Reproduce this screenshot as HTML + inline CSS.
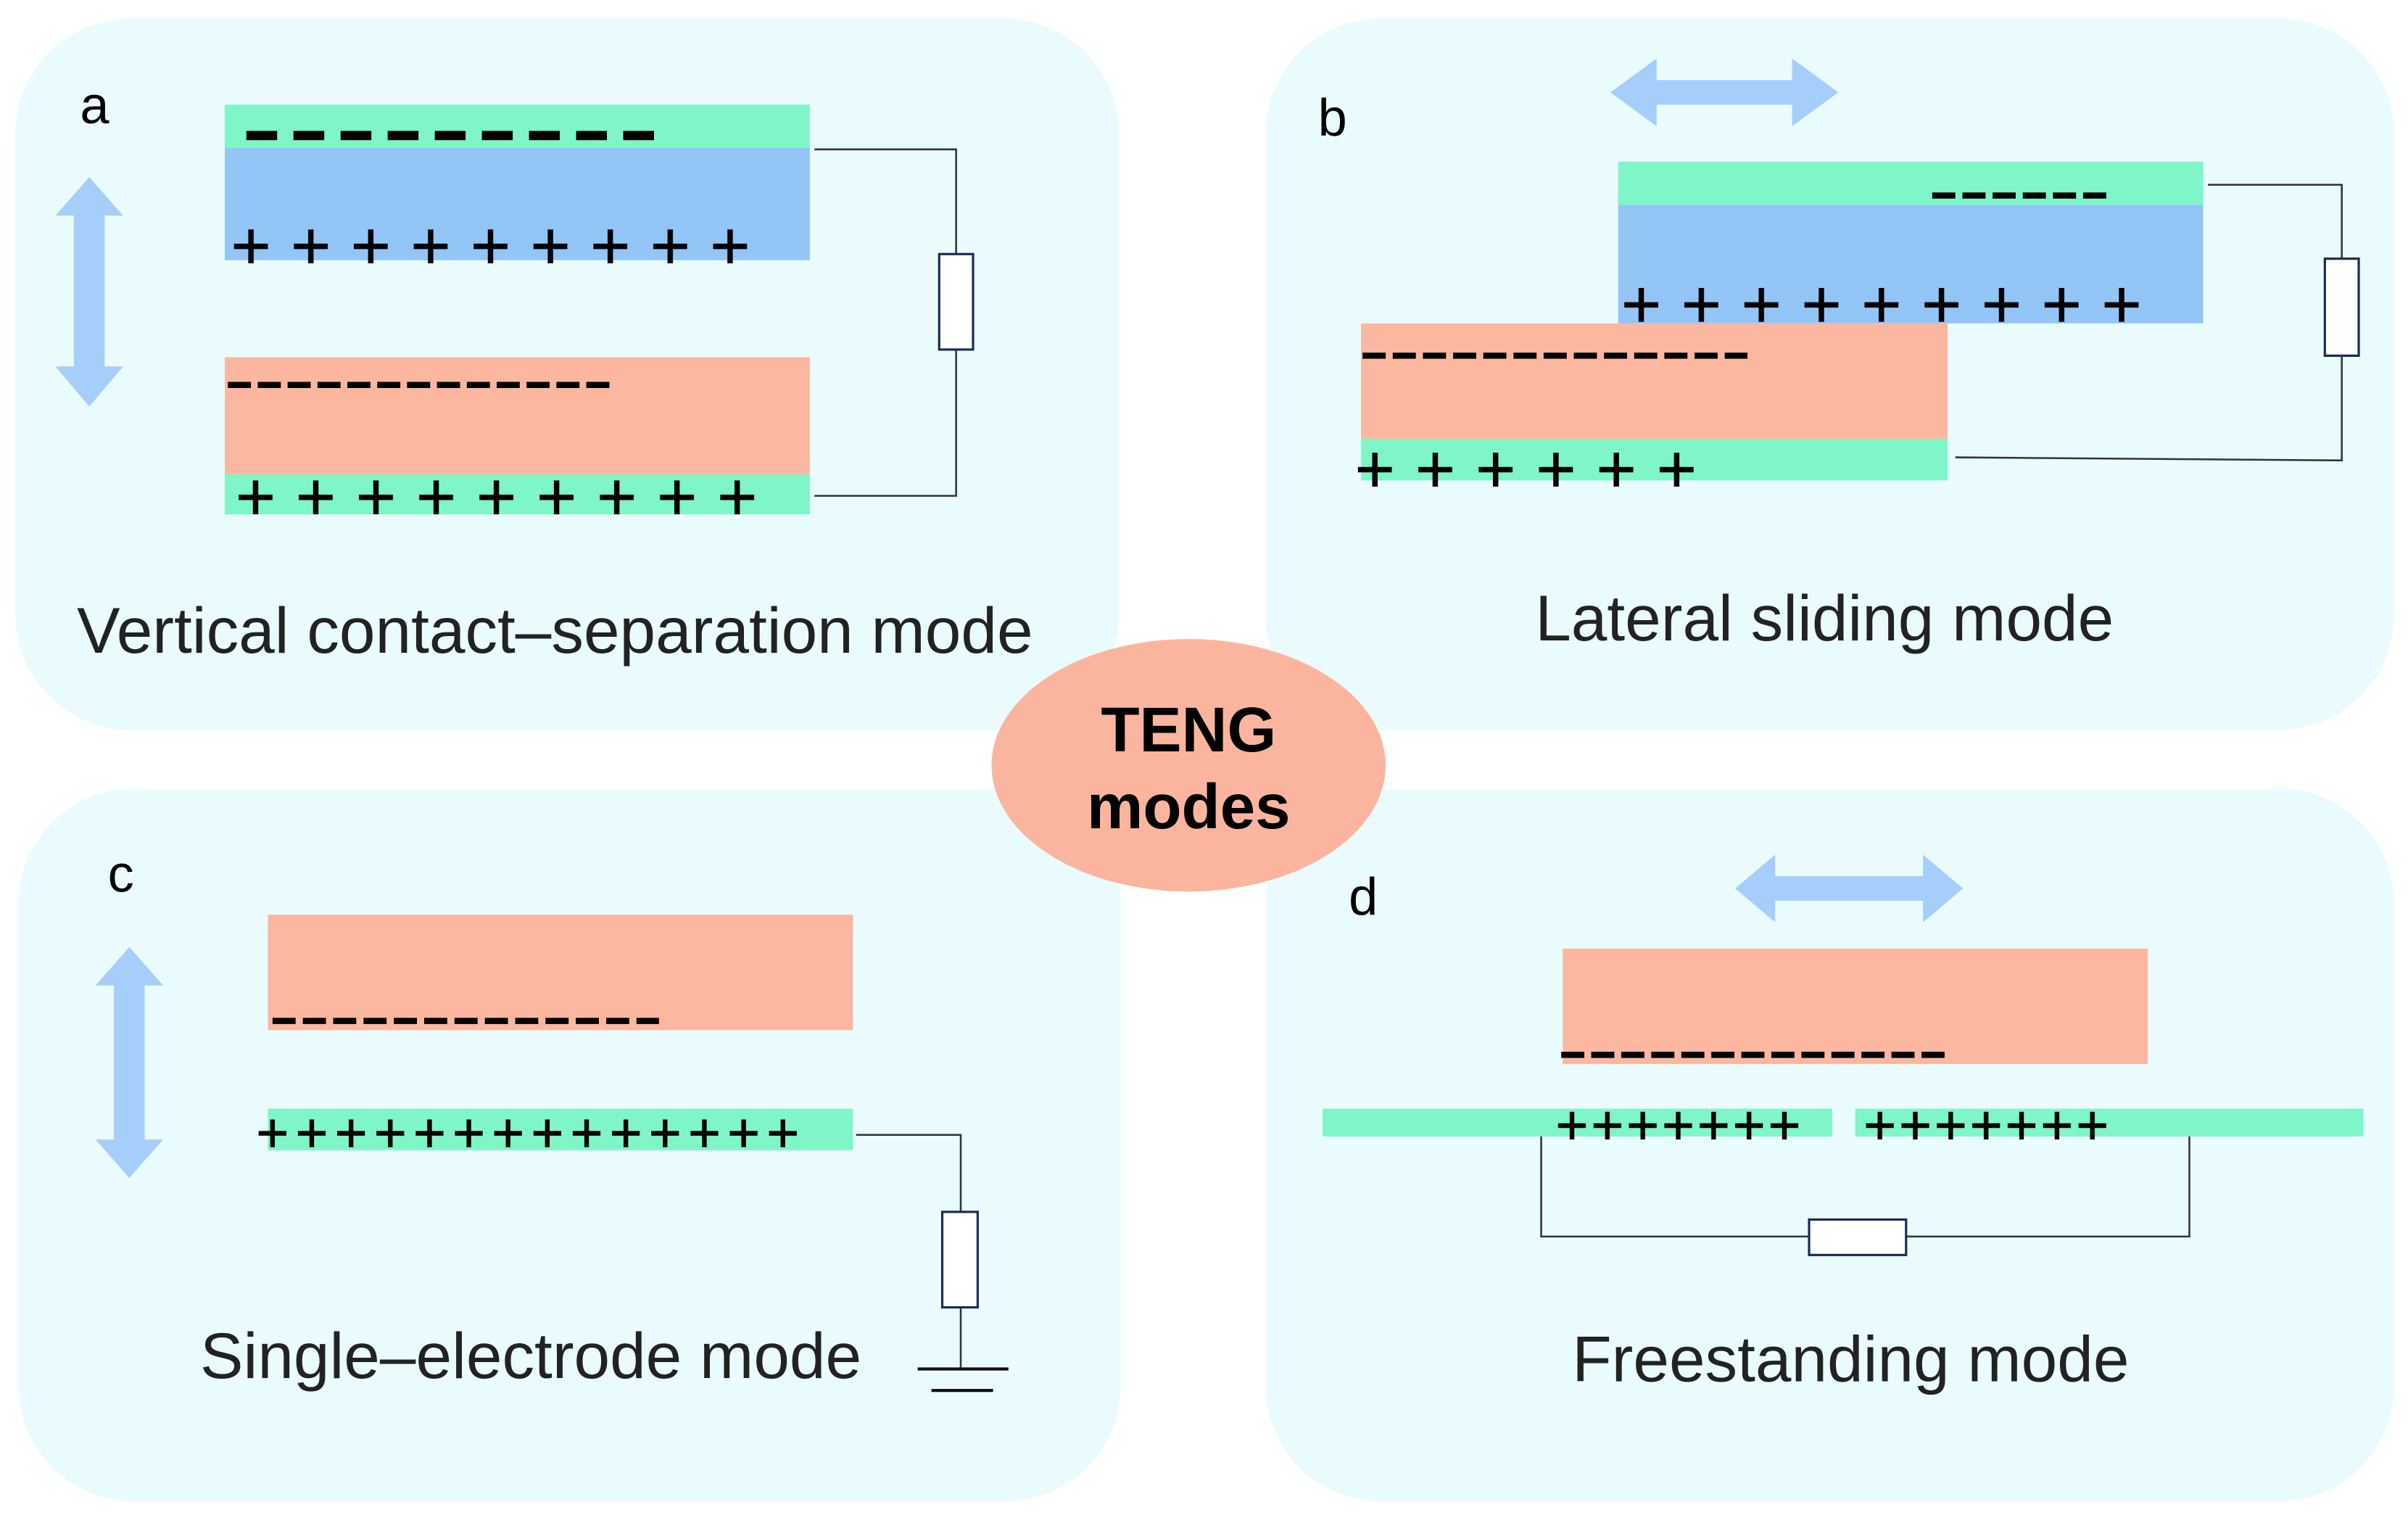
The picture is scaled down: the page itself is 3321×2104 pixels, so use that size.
<!DOCTYPE html>
<html><head><meta charset="utf-8"><style>
html,body{margin:0;padding:0;background:#fff;}
svg{display:block;}
text{font-family:"Liberation Sans",sans-serif;}
</style></head><body>
<svg width="3321" height="2104" viewBox="0 0 1564 991" preserveAspectRatio="none" xmlns="http://www.w3.org/2000/svg">
<defs>
<pattern id="pa1" patternUnits="userSpaceOnUse" x="143.55" y="149" width="38.9" height="22"><path d="M8.45 11H30.45M19.45 0V22" stroke="#000" stroke-width="3.5"/></pattern>
<pattern id="pa2" patternUnits="userSpaceOnUse" x="146.45" y="312" width="39.1" height="22"><path d="M8.55 11H30.55M19.55 0V22" stroke="#000" stroke-width="3.5"/></pattern>
<pattern id="pb1" patternUnits="userSpaceOnUse" x="1046.5" y="187" width="39" height="22"><path d="M8.5 11H30.5M19.5 0V22" stroke="#000" stroke-width="3.5"/></pattern>
<pattern id="pb2" patternUnits="userSpaceOnUse" x="873.4" y="294" width="39.2" height="22"><path d="M8.6 11H30.6M19.6 0V22" stroke="#000" stroke-width="3.5"/></pattern>
<pattern id="pc" patternUnits="userSpaceOnUse" x="164.25" y="727" width="25.5" height="18"><path d="M3.75 9H21.75M12.75 0V18" stroke="#000" stroke-width="3"/></pattern>
<pattern id="pd1" patternUnits="userSpaceOnUse" x="1009.5" y="722" width="23" height="18"><path d="M2.5 9H20.5M11.5 0V18" stroke="#000" stroke-width="3"/></pattern>
<pattern id="pd2" patternUnits="userSpaceOnUse" x="1209.5" y="722" width="23" height="18"><path d="M2.5 9H20.5M11.5 0V18" stroke="#000" stroke-width="3"/></pattern>
</defs>
<rect width="1564" height="991" fill="#fff"/>
<rect x="10" y="12" width="717" height="462" rx="75" fill="#eafbfd"/>
<rect x="822" y="12" width="733" height="462" rx="75" fill="#eafbfd"/>
<rect x="12" y="512" width="716" height="463" rx="75" fill="#eafbfd"/>
<rect x="822" y="512" width="733" height="463" rx="75" fill="#eafbfd"/>

<!-- Panel a -->
<text x="52" y="80" font-size="34">a</text>
<polygon points="58,115 80,140 68,140 68,238 80,238 58,264 36,238 48,238 48,140 36,140" fill="#a6cefb"/>
<rect x="146" y="68" width="380" height="28" fill="#7ef6c8"/>
<rect x="146" y="96" width="380" height="73" fill="#93c5f7"/>
<line x1="160" y1="88" x2="425" y2="88" stroke="#000" stroke-width="6" stroke-dasharray="20 10.6"/>
<rect x="143.55" y="149" width="350.1" height="22" fill="url(#pa1)"/>
<rect x="146" y="232" width="380" height="76" fill="#fbb79f"/>
<rect x="146" y="308" width="380" height="26" fill="#7ef6c8"/>
<line x1="148" y1="250" x2="396" y2="250" stroke="#000" stroke-width="4" stroke-dasharray="15 4.4"/>
<rect x="146.45" y="312" width="351.9" height="22" fill="url(#pa2)"/>
<path d="M529 97H621V165M621 227V322H529" fill="none" stroke="#333" stroke-width="1.2"/>
<rect x="610" y="165" width="22" height="62" fill="#fff" stroke="#1b2b55" stroke-width="1.5"/>
<text x="50" y="424" font-size="42" fill="#222">Vertical contact–separation mode</text>

<!-- Panel b -->
<text x="856" y="88" font-size="34">b</text>
<polygon points="1046,60 1076,38 1076,52 1164,52 1164,38 1194,60 1164,82 1164,68 1076,68 1076,82" fill="#a6cefb"/>
<rect x="1051" y="105" width="380" height="28" fill="#7ef6c8"/>
<rect x="1051" y="133" width="380" height="77" fill="#93c5f7"/>
<line x1="1255" y1="127" x2="1368" y2="127" stroke="#000" stroke-width="4" stroke-dasharray="15 4.6"/>
<rect x="1046.5" y="187" width="351" height="22" fill="url(#pb1)"/>
<rect x="884" y="210" width="381" height="75" fill="#fbb79f"/>
<rect x="884" y="285" width="381" height="27" fill="#7ef6c8"/>
<line x1="885" y1="231" x2="1135" y2="231" stroke="#000" stroke-width="4" stroke-dasharray="15 4.6"/>
<rect x="873.4" y="294" width="235.2" height="22" fill="url(#pb2)"/>
<path d="M1434 120H1521V168M1521 231V299L1270 297" fill="none" stroke="#333" stroke-width="1.2"/>
<rect x="1510" y="168" width="22" height="63" fill="#fff" stroke="#1b2b55" stroke-width="1.5"/>
<text x="1185" y="416" font-size="42" fill="#222" text-anchor="middle">Lateral sliding mode</text>

<!-- Center -->
<ellipse cx="772" cy="497" rx="128" ry="82" fill="#fbb59e"/>
<text x="772" y="488" font-size="41" font-weight="bold" text-anchor="middle">TENG</text>
<text x="772" y="538" font-size="41" font-weight="bold" text-anchor="middle">modes</text>

<!-- Panel c -->
<text x="70" y="579" font-size="34">c</text>
<polygon points="84,615 106,640 94,640 94,740 106,740 84,765 62,740 74,740 74,640 62,640" fill="#a6cefb"/>
<rect x="174" y="594" width="380" height="75" fill="#fbb79f"/>
<line x1="177" y1="663" x2="428" y2="663" stroke="#000" stroke-width="4" stroke-dasharray="15 4.7"/>
<rect x="174" y="720" width="380" height="27" fill="#7ef6c8"/>
<rect x="164.25" y="727" width="357" height="18" fill="url(#pc)"/>
<path d="M556 737H624V787M624 849V888" fill="none" stroke="#333" stroke-width="1.2"/>
<rect x="612" y="787" width="23" height="62" fill="#fff" stroke="#1b2b55" stroke-width="1.5"/>
<path d="M596 889H655M605 903H645" stroke="#111" stroke-width="2"/>
<text x="130" y="895" font-size="42" fill="#222">Single–electrode mode</text>

<!-- Panel d -->
<text x="876" y="594" font-size="34">d</text>
<polygon points="1127,577 1153,555 1153,569 1249,569 1249,555 1275,577 1249,599 1249,585 1153,585 1153,599" fill="#a6cefb"/>
<rect x="1015" y="616" width="380" height="75" fill="#fbb79f"/>
<line x1="1014" y1="685" x2="1263" y2="685" stroke="#000" stroke-width="4" stroke-dasharray="15 4.5"/>
<rect x="859" y="720" width="331" height="18" fill="#7ef6c8"/>
<rect x="1205" y="720" width="330" height="18" fill="#7ef6c8"/>
<rect x="1009.5" y="722" width="161" height="18" fill="url(#pd1)"/>
<rect x="1209.5" y="722" width="161" height="18" fill="url(#pd2)"/>
<path d="M1001 738V803H1175M1238 803H1422V738" fill="none" stroke="#333" stroke-width="1.2"/>
<rect x="1175" y="792" width="63" height="23" fill="#fff" stroke="#1b2b55" stroke-width="1.5"/>
<text x="1202" y="897" font-size="42" fill="#222" text-anchor="middle">Freestanding mode</text>
</svg>
</body></html>
